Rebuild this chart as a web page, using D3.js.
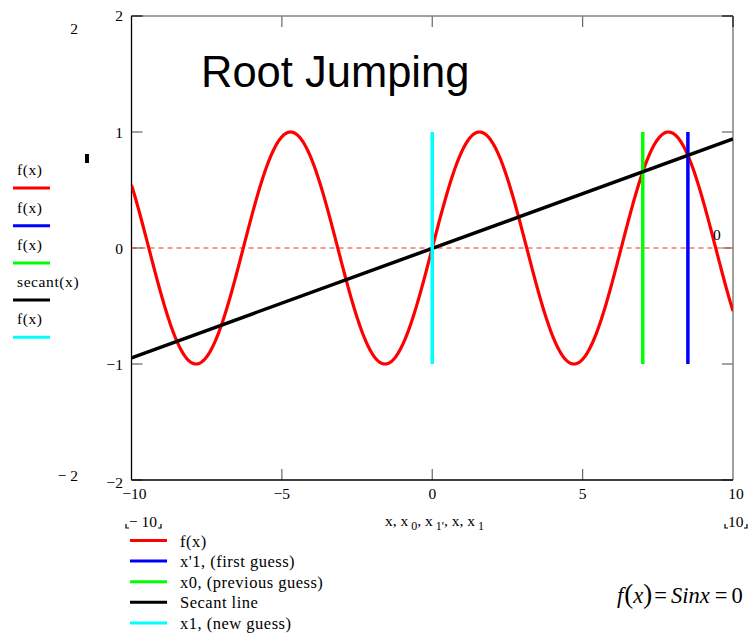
<!DOCTYPE html>
<html>
<head>
<meta charset="utf-8">
<script src="https://cdn.jsdelivr.net/npm/d3@7"></script>
<style>
  html, body { margin: 0; padding: 0; background: #fff; }
  svg { display: block; }
  text { font-family: "Liberation Serif", "Times New Roman", serif; fill: #000; }
</style>
</head>
<body>
<svg id="chart" width="752" height="635"></svg>
<script>
// Axis ranges and tick values
const xRange = [-10, 10];
const yRange = [-2, 2];
const xTicks = [-10, -5, 0, 5, 10];
const yTicks = [-2, -1, 0, 1, 2];
const innerTicksY = [-1, 0, 1];
const innerTicksX = [-5, 0, 5];

// Secant method: first guess x'1, previous guess x0, new guess x1
const firstGuess = 8.5;
const previousGuess = 7;
const guessSpan = [-1, 1];          // vertical extent of each guess marker

// Series names and colours
const traceNames = ["f(x)", "x'1, (first guess)", "x0, (previous guess)", "Secant line", "x1, (new guess)"];
const traceColors = ["#ff0000", "#0000ff", "#00ff00", "#000000", "#00ffff"];
const sideNames = ["f(x)", "f(x)", "f(x)", "secant(x)", "f(x)"];

const f = x => Math.sin(x);
const slope = (f(firstGuess) - f(previousGuess)) / (firstGuess - previousGuess);
const secant = x => f(previousGuess) + slope * (x - previousGuess);
const newGuess = 0;

const svg = d3.select("#chart");
const X = d3.scaleLinear().domain(xRange).range([131.5, 733]);
const Y = d3.scaleLinear().domain(yRange).range([480, 16]);

svg.append("clipPath").attr("id", "plotclip")
  .append("rect").attr("x", X(-10)).attr("y", Y(2))
  .attr("width", X(10) - X(-10)).attr("height", Y(-2) - Y(2));

// Inward ticks on all four sides
const tickColor = "#666";
const tickLen = 11;
const gT = svg.append("g").attr("stroke", tickColor).attr("stroke-width", 1.2);
innerTicksY.concat([2, -2]).forEach(v => {
  gT.append("line").attr("x1", X(-10)).attr("x2", X(-10) + tickLen).attr("y1", Y(v)).attr("y2", Y(v));
  gT.append("line").attr("x1", X(10)).attr("x2", X(10) - tickLen).attr("y1", Y(v)).attr("y2", Y(v));
});
innerTicksX.forEach(v => {
  gT.append("line").attr("x1", X(v)).attr("x2", X(v)).attr("y1", Y(-2)).attr("y2", Y(-2) - tickLen);
  gT.append("line").attr("x1", X(v)).attr("x2", X(v)).attr("y1", Y(2)).attr("y2", Y(2) + tickLen);
});

// Frame
svg.append("line").attr("x1", X(-10)).attr("x2", X(10)).attr("y1", Y(2)).attr("y2", Y(2))
  .attr("stroke", "#808080").attr("stroke-width", 1.5);
svg.append("line").attr("x1", X(10)).attr("x2", X(10)).attr("y1", Y(2)).attr("y2", Y(-2))
  .attr("stroke", "#808080").attr("stroke-width", 1.5);
svg.append("line").attr("x1", X(-10)).attr("x2", X(-10)).attr("y1", Y(2)).attr("y2", Y(-2))
  .attr("stroke", "#000").attr("stroke-width", 1.3);
svg.append("line").attr("x1", X(-10)).attr("x2", X(10)).attr("y1", Y(-2)).attr("y2", Y(-2))
  .attr("stroke", "#000").attr("stroke-width", 1.5);

// Corner dark stubs
svg.append("line").attr("x1", X(-10)).attr("x2", X(-10) + 11).attr("y1", Y(2)).attr("y2", Y(2)).attr("stroke", "#333").attr("stroke-width", 1.5);
svg.append("line").attr("x1", X(10) - 11).attr("x2", X(10)).attr("y1", Y(2)).attr("y2", Y(2)).attr("stroke", "#333").attr("stroke-width", 1.5);
svg.append("line").attr("x1", X(10)).attr("x2", X(10)).attr("y1", Y(2)).attr("y2", Y(2) + 11).attr("stroke", "#333").attr("stroke-width", 1.5);

const fmt = v => (v < 0 ? "\u2212" + Math.abs(v) : String(v));

// Y tick labels
svg.append("g").selectAll("text").data(yTicks).join("text")
  .attr("x", 123).attr("y", d => Y(d) + 6 + (d === 2 ? -1 : 0) + (d === -2 ? 2 : 0))
  .attr("text-anchor", "end").attr("font-size", 15.5).text(fmt);

// X tick labels
svg.append("g").selectAll("text").data(xTicks).join("text")
  .attr("x", d => X(d) + (d === 10 ? 3 : d === -10 ? 3 : 0)).attr("y", 499)
  .attr("text-anchor", "middle").attr("font-size", 15.5).text(fmt);

const plot = svg.append("g").attr("clip-path", "url(#plotclip)");

// y = 0 marker line
plot.append("line").attr("x1", X(-10)).attr("x2", X(10)).attr("y1", Y(0)).attr("y2", Y(0))
  .attr("stroke", "#e83030").attr("stroke-width", 1).attr("stroke-dasharray", "5,4");

// f(x) = sin x
const xs = d3.range(-10, 10.0001, 0.02);
plot.append("path").datum(xs)
  .attr("fill", "none").attr("stroke", traceColors[0]).attr("stroke-width", 3.2)
  .attr("stroke-linejoin", "round")
  .attr("d", d3.line().x(d => X(d)).y(d => Y(f(d))));

// Guess markers
const guessLine = (xv, color) => plot.append("line")
  .attr("x1", X(xv)).attr("x2", X(xv)).attr("y1", Y(guessSpan[0])).attr("y2", Y(guessSpan[1]))
  .attr("stroke", color).attr("stroke-width", 3.5);
guessLine(firstGuess, traceColors[1]);
guessLine(previousGuess, traceColors[2]);

// Secant line
plot.append("path").datum(xRange)
  .attr("fill", "none").attr("stroke", traceColors[3]).attr("stroke-width", 3.5)
  .attr("d", d3.line().x(d => X(d)).y(d => Y(secant(d))));

guessLine(newGuess, traceColors[4]);

// Value marker label
svg.append("text").attr("x", 713).attr("y", 240).attr("font-size", 15.5).text("0");

// Title
svg.append("text").attr("x", 201).attr("y", 87)
  .style("font-family", "'Liberation Sans', Arial, sans-serif")
  .attr("font-size", 43.5).text("Root Jumping");

// Outer range labels
svg.append("text").attr("x", 78).attr("y", 34).attr("text-anchor", "end").attr("font-size", 15.5).text("2");
svg.append("text").attr("x", 78).attr("y", 481).attr("text-anchor", "end").attr("font-size", 15.5).text("\u2212 2");
svg.append("rect").attr("x", 85).attr("y", 154).attr("width", 4).attr("height", 9).attr("fill", "#000");

// Lower x-range labels with placeholder corners
const corner = (x0, y0, side) => {
  const p = side === "L" ? `M${x0},${y0 - 4}V${y0}H${x0 + 3}` : `M${x0},${y0 - 4}V${y0}H${x0 - 3}`;
  svg.append("path").attr("d", p).attr("fill", "none").attr("stroke", "#000").attr("stroke-width", 1.2);
};
svg.append("text").attr("x", 129).attr("y", 527).attr("font-size", 15.5).text("\u2212 10");
corner(126, 528, "L"); corner(161, 528, "R");
svg.append("text").attr("x", 728).attr("y", 527).attr("font-size", 15.5).text("10");
corner(725, 528, "L"); corner(747, 528, "R");

const xl = svg.append("text").attr("x", 385).attr("y", 526).attr("font-size", 15.5);
[["x, x", 0], ["0", 1], [", x", 0], ["1'", 1], [", x, x", 0], ["1", 1]].forEach(([t, sub]) => {
  xl.append("tspan").attr("dy", sub ? 4 : (t === "x, x" ? 0 : -4)).attr("font-size", sub ? 12 : 15.5)
    .attr("dx", sub ? 3 : 0).text(t);
});

// Side legend
sideNames.forEach((n, i) => {
  const ly = [188, 225.7, 263, 300, 337.3][i];
  svg.append("text").attr("x", 17).attr("y", ly - 13).attr("font-size", 15.5)
    .attr("letter-spacing", 0.6).text(n);
  svg.append("line").attr("x1", 13).attr("x2", 50).attr("y1", ly).attr("y2", ly)
    .attr("stroke", traceColors[i]).attr("stroke-width", 3);
});

// Bottom legend
traceNames.forEach((n, i) => {
  const ly = 540.5 + i * 20.6;
  svg.append("line").attr("x1", 130).attr("x2", 167).attr("y1", ly).attr("y2", ly)
    .attr("stroke", traceColors[i]).attr("stroke-width", 3);
  svg.append("text").attr("x", 180).attr("y", ly + 6).attr("font-size", 16.5)
    .attr("letter-spacing", 0.5).text(n);
});

// Equation
const eq = svg.append("text").attr("x", 617).attr("y", 603).attr("font-size", 22.5);
eq.append("tspan").attr("font-style", "italic").text("f");
eq.append("tspan").attr("font-size", 27).attr("dx", 1).text("(");
eq.append("tspan").attr("font-style", "italic").text("x");
eq.append("tspan").attr("font-size", 27).text(")");
eq.append("tspan").attr("dx", 2).text("=");
eq.append("tspan").attr("font-style", "italic").attr("dx", 4).text("Sinx");
eq.append("tspan").attr("dx", 5).text("=");
eq.append("tspan").attr("dx", 4).text("0");
</script>
</body>
</html>
